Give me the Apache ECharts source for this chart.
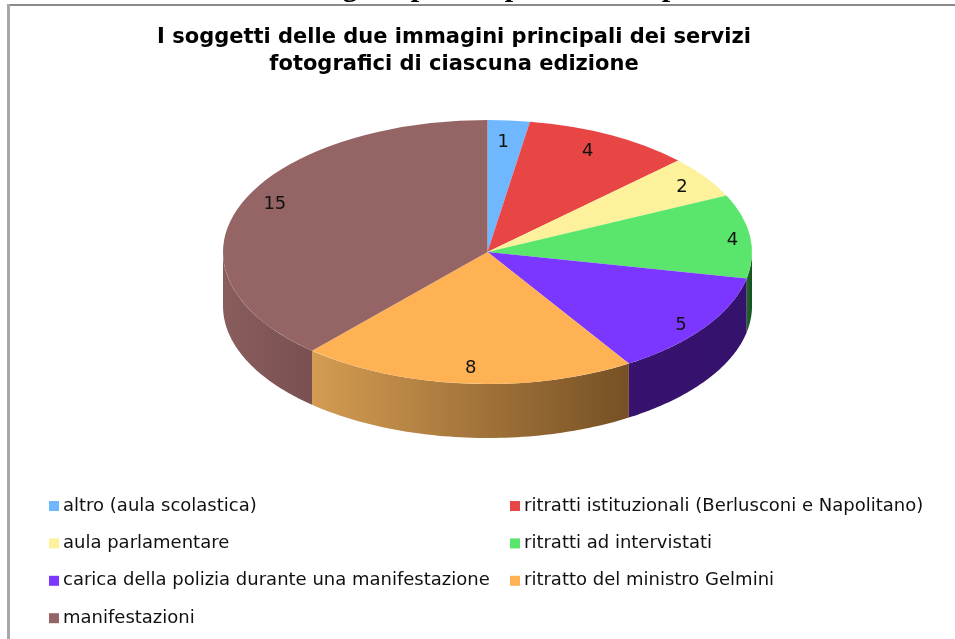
<!DOCTYPE html>
<html>
<head>
<meta charset="utf-8">
<style>html,body{margin:0;padding:0;background:#fff}#c{width:955px;height:639px}</style>
<script src="https://cdn.jsdelivr.net/npm/echarts@6/dist/echarts.min.js"></script>
</head>
<body>
<div id="c"></div>
<script>
const categories = [
  'altro (aula scolastica)',
  'ritratti istituzionali (Berlusconi e Napolitano)',
  'aula parlamentare',
  'ritratti ad intervistati',
  'carica della polizia durante una manifestazione',
  'ritratto del ministro Gelmini',
  'manifestazioni'
];
const values = [1, 4, 2, 4, 5, 8, 15];
const titleLines = ['I soggetti delle due immagini principali dei servizi', 'fotografici di ciascuna edizione'];

const topColors = ['#6fb7ff', '#e84545', '#fdf19b', '#5ae66c', '#7b37ff', '#ffb254', '#956464'];
const wallColors = [null, null, null, ['#1f6a2a', '#174f20'], ['#37136f', '#35126c'], ['#d49c52', '#765024'], ['#8a5d5d', '#7a5050']];
const labelNudge = [[-3, 6], [-8, 2], [3, 1], [14, 2], [2, 7], [2, 1], [5, -6]];

const CX = 487.5, CY = 252, RX = 264.5, RY = 132, DEPTH = 54;
const total = values.reduce((a, b) => a + b, 0);
const FONT = '"DejaVu Sans", Verdana, sans-serif';

function angleAt(i) {
  let s = 0;
  for (let k = 0; k < i; k++) s += values[k];
  return s / total * Math.PI * 2;
}
function rim(a, dy) {
  return [CX + RX * Math.sin(a), CY - RY * Math.cos(a) + dy];
}

function renderSlice(i) {
  return function (params, api) {
    const a0 = angleAt(i);
    const a1 = a0 + api.value(0) / total * Math.PI * 2;
    const children = [];
    const w0 = Math.max(a0, Math.PI / 2), w1 = Math.min(a1, Math.PI * 1.5);
    if (w1 > w0) {
      const pts = [];
      const n = 60;
      for (let k = 0; k <= n; k++) pts.push(rim(w0 + (w1 - w0) * k / n, 0));
      for (let k = n; k >= 0; k--) pts.push(rim(w0 + (w1 - w0) * k / n, DEPTH));
      children.push({
        type: 'polygon',
        shape: { points: pts },
        style: {
          fill: new echarts.graphic.LinearGradient(0, 0, 1, 0, [
            { offset: 0, color: wallColors[i][0] },
            { offset: 1, color: wallColors[i][1] }
          ])
        },
        z2: 1
      });
    }
    children.push({
      type: 'sector',
      x: CX, y: CY, scaleY: RY / RX,
      shape: { cx: 0, cy: 0, r: RX, r0: 0, startAngle: a0 - Math.PI / 2, endAngle: a1 - Math.PI / 2, clockwise: true },
      style: { fill: topColors[i] },
      z2: 2
    });
    const mid = (a0 + a1) / 2;
    children.push({
      type: 'text',
      x: CX + 0.88 * RX * Math.sin(mid) + labelNudge[i][0],
      y: CY - 0.88 * RY * Math.cos(mid) + labelNudge[i][1],
      style: { text: String(api.value(0)), font: '18px ' + FONT, fill: '#111', align: 'center', verticalAlign: 'middle' },
      z2: 3
    });
    return { type: 'group', children: children };
  };
}

const series = categories.map((name, i) => ({
  type: 'custom',
  name: name,
  coordinateSystem: 'none',
  colorBy: 'series',
  silent: true,
  animation: false,
  clip: false,
  itemStyle: { color: topColors[i] },
  data: [[values[i]]],
  renderItem: renderSlice(i)
}));

const legendCommon = {
  orient: 'vertical', icon: 'rect', itemWidth: 10, itemHeight: 10, itemGap: 19.4,
  selectedMode: false,
  textStyle: { fontFamily: FONT, fontSize: 18, color: '#111', padding: [0, 0, 0, -1] }
};

function cutGlyph(ch, x) {
  return { type: 'text', x: x, y: 3, silent: true,
    style: { text: ch, font: 'bold 30px "Liberation Serif", serif', fill: '#000', align: 'center', verticalAlign: 'bottom' } };
}

const chart = echarts.init(document.getElementById('c'), null, { renderer: 'canvas' });
chart.setOption({
  backgroundColor: '#ffffff',
  animation: false,
  legend: [
    Object.assign({ left: 44, top: 492, data: [categories[0], categories[2], categories[4], categories[6]] }, legendCommon),
    Object.assign({ left: 505, top: 492, data: [categories[1], categories[3], categories[5]] }, legendCommon)
  ],
  series: series,
  graphic: [
    cutGlyph('g', 350), cutGlyph('p', 419), cutGlyph('p', 513), cutGlyph('p', 670),
    { type: 'rect', shape: { x: 7, y: 4, width: 948, height: 2 }, style: { fill: '#8a8a8a' }, silent: true },
    { type: 'rect', shape: { x: 7, y: 4, width: 3, height: 635 }, style: { fill: '#a8a8a8' }, silent: true },
    { type: 'text', x: 454, y: 38, style: { text: titleLines[0], font: 'bold 21px ' + FONT, fill: '#000', align: 'center', verticalAlign: 'middle' }, silent: true },
    { type: 'text', x: 454, y: 65, style: { text: titleLines[1], font: 'bold 21px ' + FONT, fill: '#000', align: 'center', verticalAlign: 'middle' }, silent: true }
  ]
});
</script>
</body>
</html>
